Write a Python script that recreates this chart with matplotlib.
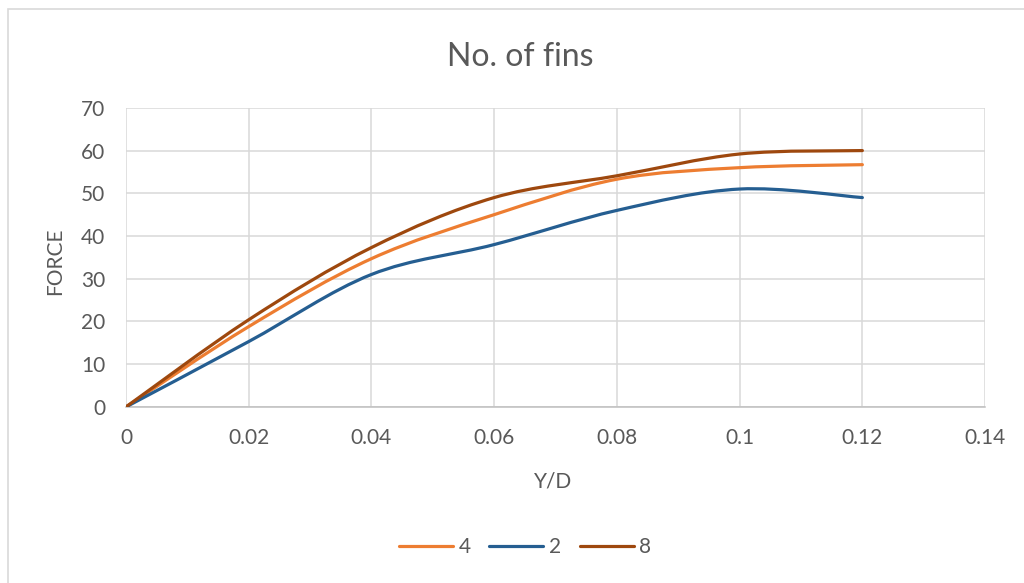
import matplotlib.pyplot as plt
from matplotlib.path import Path
from matplotlib.patches import PathPatch, Rectangle
from matplotlib.lines import Line2D

# Y/D positions and force for each fin count
y_d = [0, 0.02, 0.04, 0.06, 0.08, 0.1, 0.12]
force_4 = [0, 18.8, 34.7, 45, 53.3, 56, 56.7]
force_2 = [0, 15.3, 31, 38, 46, 51, 49]
force_8 = [0, 20.4, 37.3, 49, 54.1, 59.2, 60]

series = [("4", force_4, "#ED7D31"),
          ("2", force_2, "#255E91"),
          ("8", force_8, "#9E480E")]

plt.rcParams['font.family'] = ['Lato', 'DejaVu Sans']
text_color = "#595959"


def smooth_path(xs, ys):
    # spreadsheet-style smoothing: cubic Bezier with Catmull-Rom tangents
    verts = [(xs[0], ys[0])]
    codes = [Path.MOVETO]
    n = len(xs)
    for i in range(n - 1):
        x0, y0 = (xs[i - 1], ys[i - 1]) if i > 0 else (xs[i], ys[i])
        x1, y1 = xs[i], ys[i]
        x2, y2 = xs[i + 1], ys[i + 1]
        x3, y3 = (xs[i + 2], ys[i + 2]) if i + 2 < n else (x2, y2)
        c1 = (x1 + (x2 - x0) / 6, y1 + (y2 - y0) / 6)
        c2 = (x2 - (x3 - x1) / 6, y2 - (y3 - y1) / 6)
        verts += [c1, c2, (x2, y2)]
        codes += [Path.CURVE4] * 3
    return Path(verts, codes)


fig = plt.figure(figsize=(10.24, 5.83), dpi=100)
ax = fig.add_axes([0.123, 0.302, 0.839, 0.513])

for name, vals, color in series:
    ax.add_patch(PathPatch(smooth_path(y_d, vals), facecolor="none",
                           edgecolor=color, lw=2.3, capstyle="round", zorder=3))

ax.set_xlim(0, 0.14)
ax.set_ylim(0, 70)
ax.set_xticks([0, 0.02, 0.04, 0.06, 0.08, 0.1, 0.12, 0.14])
ax.set_xticklabels(["0", "0.02", "0.04", "0.06", "0.08", "0.1", "0.12", "0.14"])
ax.set_yticks(range(0, 71, 10))
ax.grid(True, color="#d9d9d9", lw=1.1)
ax.set_axisbelow(True)
for s in ["top", "right", "left"]:
    ax.spines[s].set_visible(False)
ax.spines["bottom"].set_color("#bfbfbf")
ax.spines["bottom"].set_linewidth(1.1)
ax.tick_params(length=0, labelsize=15, labelcolor=text_color, pad=15)

fig.text(553.5 / 1024, 1 - 488 / 583, "Y/D", fontsize=15, color=text_color,
         ha="center", va="baseline")
fig.text(55 / 1024, 1 - 261.5 / 583, "FORCE", fontsize=15, color=text_color,
         ha="center", va="center", rotation=90)
fig.text(520 / 1024, 1 - 66 / 583, "No. of fins", fontsize=23, color=text_color,
         ha="center", va="baseline")

handles = [Line2D([0], [0], color=c, lw=2.3, solid_capstyle="round")
           for _, _, c in series]
fig.legend(handles, [n for n, _, _ in series], loc="center",
           bbox_to_anchor=(525 / 1024, 1 - 547 / 583), ncol=3, frameon=False,
           fontsize=15, labelcolor=text_color, handlelength=2.6,
           handletextpad=0.25, columnspacing=0.9)

fig.add_artist(Rectangle((8 / 1024, -0.01), 1.1, 1 - 9 / 583 + 0.01,
                         transform=fig.transFigure, fill=False,
                         edgecolor="#d9d9d9", lw=1.2))

fig.savefig("out.png", dpi=100)
